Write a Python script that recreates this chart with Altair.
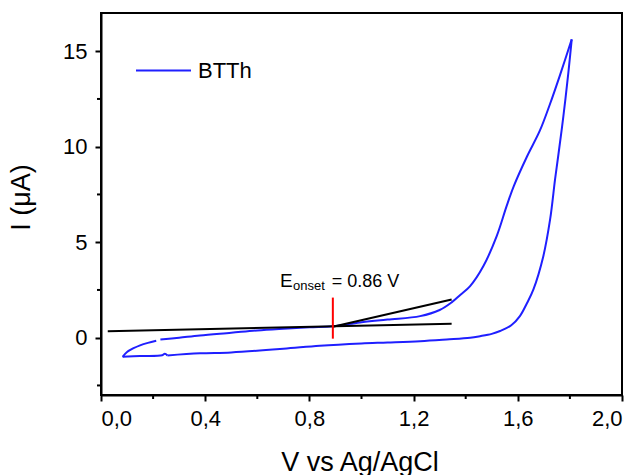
import altair as alt
import pandas as pd

# Cyclic voltammogram of BTTh: forward scan (two pieces, small gap near 0.22 V) and reverse scan
fwd_a_v = [0.083, 0.10, 0.125, 0.15, 0.18, 0.212]
fwd_a_i = [-1.0, -0.75, -0.55, -0.40, -0.27, -0.16]
fwd_b_v = [0.228, 0.30, 0.38, 0.50, 0.60, 0.70, 0.80, 0.89, 0.994, 1.10, 1.225, 1.30, 1.346,
           1.38, 1.417, 1.468, 1.519, 1.557, 1.585, 1.634, 1.685, 1.724, 1.762, 1.807]
fwd_b_i = [-0.10, 0.00, 0.12, 0.26, 0.38, 0.47, 0.55, 0.60, 0.80, 0.95, 1.13, 1.45, 1.85,
           2.25, 2.70, 3.75, 5.32, 6.89, 7.95, 9.45, 10.85, 12.25, 13.75, 15.62]
rev_v = [1.807, 1.794, 1.775, 1.755, 1.743, 1.724, 1.698, 1.66, 1.635, 1.608, 1.575, 1.532,
         1.50, 1.455, 1.417, 1.327, 1.225, 1.10, 1.00, 0.84, 0.70, 0.50, 0.38, 0.255]
rev_i = [15.62, 13.87, 11.6, 9.5, 8.29, 6.19, 4.27, 2.53, 1.80, 1.13, 0.65, 0.35,
         0.20, 0.08, 0.00, -0.09, -0.18, -0.25, -0.30, -0.42, -0.58, -0.77, -0.82, -0.93]
rev_end_v = [0.255, 0.245, 0.235, 0.15, 0.083]
rev_end_i = [-0.93, -0.84, -0.92, -0.96, -1.0]

# Tangent lines for onset estimation
base_v = [0.026, 1.346]
base_i = [0.34, 0.73]
tang_v = [0.89, 1.346]
tang_i = [0.57, 2.0]

# Onset marker
onset_v = [0.89]
onset_lo = [-0.05]
onset_hi = [2.1]

x_ticks = [0.0, 0.4, 0.8, 1.2, 1.6, 2.0]
x_minor = [0.2, 0.6, 1.0, 1.4, 1.8]
y_ticks = [0, 5, 10, 15]
y_minor = [-2.5, 2.5, 7.5, 12.5]

W, H = 521, 382
FONT = "Liberation Sans"

rows = []
for name, vs, is_ in [("a", fwd_a_v, fwd_a_i), ("b", fwd_b_v, fwd_b_i),
                      ("c", rev_v, rev_i), ("d", rev_end_v, rev_end_i)]:
    for k, (v, i) in enumerate(zip(vs, is_)):
        rows.append({"V": v, "I": i, "seg": name, "ord": k, "series": "BTTh"})
cv = pd.DataFrame(rows)

lines = pd.DataFrame(
    [{"V": v, "I": i, "seg": "base", "ord": k} for k, (v, i) in enumerate(zip(base_v, base_i))]
    + [{"V": v, "I": i, "seg": "tan", "ord": k} for k, (v, i) in enumerate(zip(tang_v, tang_i))]
)

xs = alt.Scale(domain=[0, 2], nice=False, zero=False)
ys = alt.Scale(domain=[-3, 17], nice=False, zero=False)

x_axis = alt.Axis(values=x_ticks, format=".1f", labelExpr="replace(datum.label, '.', ',')",
                  title="V vs Ag/AgCl", grid=False, domainColor="black", domainWidth=2,
                  tickColor="black", tickWidth=2, tickSize=6, labelFontSize=22, labelFont=FONT,
                  labelColor="black", labelPadding=7, titleFontSize=27, titleFont=FONT,
                  titleFontWeight="normal", titleColor="black", titleBaseline="alphabetic",
                  titleY=75, titleX=W / 2 - 2)
y_axis = alt.Axis(values=y_ticks, format="d", title="I (μA)", grid=False, domainColor="black",
                  domainWidth=2, tickColor="black", tickWidth=2, tickSize=6, labelFontSize=22,
                  labelFont=FONT, labelColor="black", labelPadding=8, titleFontSize=27,
                  titleFont=FONT, titleFontWeight="normal", titleColor="black",
                  titleBaseline="alphabetic", titleAngle=-90, titleX=-72, titleY=184,
                  titleAlign="center")

cv_layer = alt.Chart(cv).mark_line(strokeWidth=2, interpolate="catmull-rom").encode(
    x=alt.X("V:Q", scale=xs, axis=x_axis),
    y=alt.Y("I:Q", scale=ys, axis=y_axis),
    detail="seg:N",
    order="ord:Q",
    color=alt.Color("series:N", scale=alt.Scale(range=["#1f1fff"]),
                    legend=alt.Legend(orient="none", legendX=34, legendY=29, title=None,
                                      symbolType="stroke", symbolSize=3025, symbolStrokeWidth=2,
                                      labelFontSize=22, labelFont=FONT, labelColor="black",
                                      labelOffset=6, padding=0)),
)

line_layer = alt.Chart(lines).mark_line(color="black", strokeWidth=2).encode(
    x="V:Q", y="I:Q", detail="seg:N", order="ord:Q"
)

onset = pd.DataFrame({"V": onset_v, "lo": onset_lo, "hi": onset_hi})
red_layer = alt.Chart(onset).mark_rule(color="#ff0000", strokeWidth=2).encode(
    x="V:Q", y="lo:Q", y2="hi:Q"
)

lab = pd.DataFrame({
    "V": [0.687, 0.737, 0.886],
    "I": [2.67, 2.49, 2.67],
    "txt": ["E", "onset", "= 0.86 V"],
    "fs": [19, 13, 18],
})
text_layer = alt.Chart(lab).mark_text(align="left", baseline="alphabetic", font=FONT,
                                      color="black").encode(
    x="V:Q", y="I:Q", text="txt:N", size=alt.Size("fs:Q", scale=None, legend=None)
)

xm = alt.Chart(pd.DataFrame({"V": x_minor})).mark_rule(color="black", strokeWidth=2).encode(
    x="V:Q", y=alt.value(H), y2=alt.value(H + 4)
)
ym = alt.Chart(pd.DataFrame({"I": y_minor})).mark_rule(color="black", strokeWidth=2).encode(
    y="I:Q", x=alt.value(-4), x2=alt.value(0)
)

chart = alt.layer(cv_layer, line_layer, red_layer, text_layer, xm, ym).properties(
    width=W, height=H,
    autosize=alt.AutoSizeParams(type="none"),
    padding={"left": 101, "top": 13, "right": 18, "bottom": 80},
    background="white",
).configure_view(stroke="black", strokeWidth=2)

chart.save("out.html", embed_options={"renderer": "svg", "actions": False})
